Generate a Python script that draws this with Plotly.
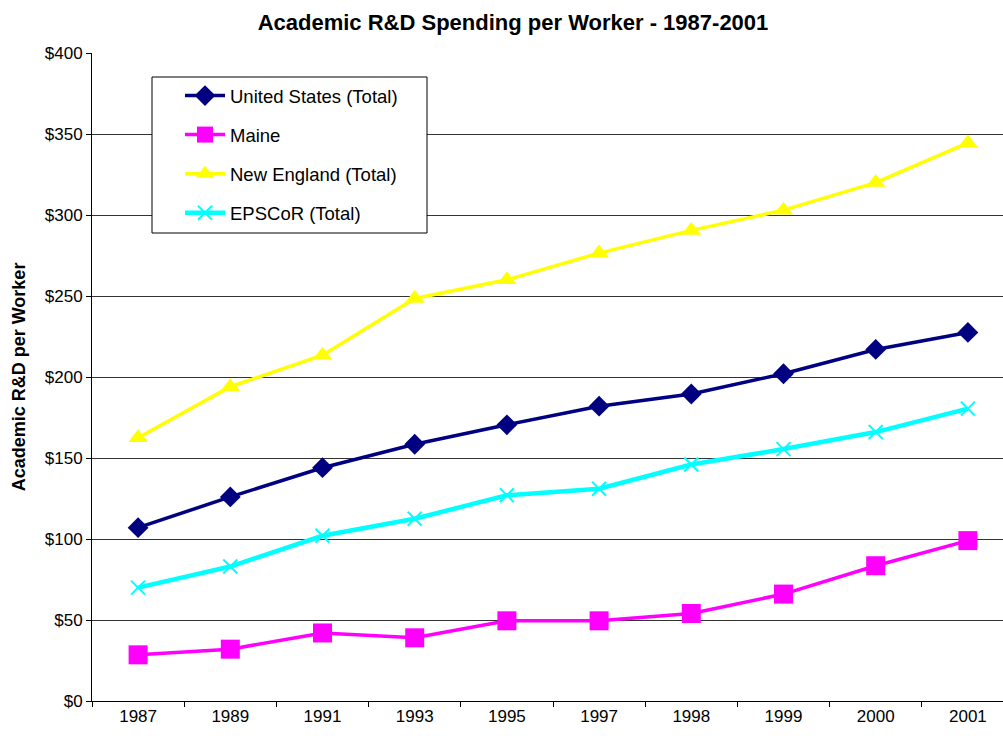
import plotly.graph_objects as go

years = ["1987", "1989", "1991", "1993", "1995", "1997", "1998", "1999", "2000", "2001"]
us_total = [107, 126, 144, 158.5, 170.5, 182, 189.5, 202, 217, 227.5]
maine = [28.5, 32, 42, 39, 49.5, 49.5, 54, 66, 83.5, 99]
new_england = [162.5, 194, 213.5, 248.5, 260, 276.5, 290.5, 303, 320, 344.5]
epscor = [70, 83, 102, 112.5, 127, 131, 146, 155.5, 166, 180.5]

series = [
    ("United States (Total)", us_total, "#000080", 3.5, dict(symbol="diamond", size=16)),
    ("Maine", maine, "#FF00FF", 3.5, dict(symbol="square", size=19)),
    ("New England (Total)", new_england, "#FFFF00", 3.5, dict(symbol="triangle-up", size=17)),
    ("EPSCoR (Total)", epscor, "#00FFFF", 4.5,
     dict(symbol="x-thin-open", size=14, line=dict(width=2, color="#00FFFF"))),
]

FIG_W = 1016
PLOT_W = 922

fig = go.Figure()
for i, (name, vals, color, lw, mk) in enumerate(series):
    marker = dict(color=color, **mk)
    fig.add_trace(go.Scatter(
        x=years, y=vals, name=name, mode="lines+markers",
        line=dict(color=color, width=lw), marker=marker,
        legendgroup=f"g{i}",
    ))

# legend frame
fig.add_shape(type="rect", xref="paper", yref="paper",
              x0=(152 - 92) / PLOT_W, x1=(427 - 92) / PLOT_W,
              y0=(701 - 233) / 648, y1=(701 - 77) / 648,
              line=dict(color="black", width=1), fillcolor="white", layer="above")

fig.update_layout(
    width=FIG_W, height=736,
    margin=dict(l=92, r=FIG_W - 92 - PLOT_W, t=53, b=35),
    paper_bgcolor="white", plot_bgcolor="white",
    font=dict(family="Liberation Sans, Arial, sans-serif", size=17, color="black"),
    title=dict(text="<b>Academic R&D Spending per Worker - 1987-2001</b>",
               x=513 / FIG_W, xanchor="center", y=0.970, yanchor="middle",
               font=dict(size=22)),
    showlegend=True,
    legend=dict(x=(180 - 92) / PLOT_W, y=(701 - 77) / 648, xanchor="left", yanchor="top",
                borderwidth=0, bgcolor="rgba(0,0,0,0)",
                tracegroupgap=12, font=dict(size=18.5),
                itemwidth=40),
    xaxis=dict(type="category", range=[-0.5, 9.5], tickson="boundaries",
               ticks="outside", ticklen=5, tickcolor="black",
               showline=True, linecolor="black", linewidth=1,
               showgrid=False, tickfont=dict(size=17), automargin=False),
    yaxis=dict(range=[0, 400], dtick=50, tickprefix="$",
               ticks="outside", ticklen=5, tickcolor="black",
               showline=True, linecolor="black", linewidth=1,
               showgrid=True, gridcolor="#333333", gridwidth=1,
               zeroline=False, tickfont=dict(size=17), automargin=False,
               title=dict(text="<b>Academic R&D per Worker</b>", font=dict(size=18), standoff=14)),
)

fig.write_html("out.html",
               config={"displayModeBar": False},
               post_script="document.body.style.margin='0';document.body.style.overflow='hidden';")
